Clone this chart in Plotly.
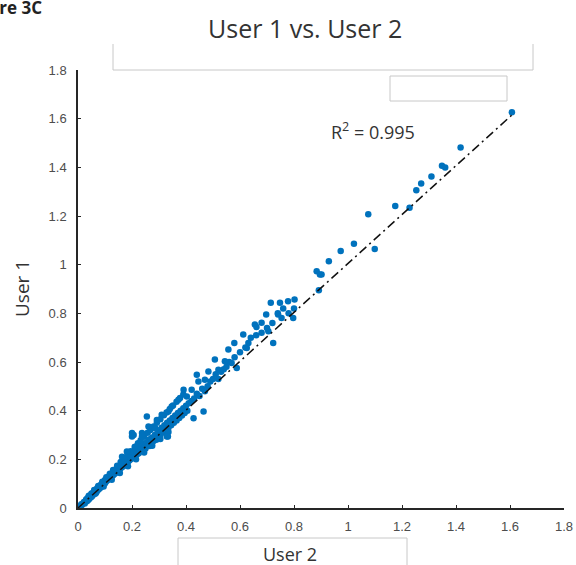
import plotly.graph_objects as go

# ---- data (User 2 on x, User 1 on y) ----
user2 = [
    0.005, 0.010, 0.012, 0.015, 0.020, 0.022, 0.025, 0.030, 0.030, 0.033, 0.035, 0.038, 0.040, 0.042,
    0.045, 0.048, 0.050, 0.050, 0.052, 0.055, 0.058, 0.060, 0.062, 0.065, 0.068, 0.070, 0.070, 0.072,
    0.075, 0.078, 0.080, 0.080, 0.083, 0.085, 0.088, 0.090, 0.092, 0.095, 0.098, 0.100, 0.100, 0.103,
    0.105, 0.108, 0.110, 0.112, 0.115, 0.118, 0.120, 0.120, 0.123, 0.125, 0.128, 0.130, 0.132, 0.135,
    0.138, 0.140, 0.142, 0.145, 0.148, 0.150, 0.152, 0.155, 0.158, 0.160, 0.162, 0.165, 0.168, 0.170,
    0.172, 0.175, 0.178, 0.180, 0.182, 0.185, 0.188, 0.190, 0.192, 0.195, 0.198, 0.200, 0.200, 0.205,
    0.208, 0.210, 0.215, 0.218, 0.220, 0.225, 0.228, 0.230, 0.235, 0.238, 0.240, 0.245, 0.250, 0.250,
    0.255, 0.260, 0.262, 0.265, 0.270, 0.272, 0.275, 0.280, 0.285, 0.290, 0.295, 0.300, 0.300, 0.305,
    0.310, 0.315, 0.320, 0.325, 0.330, 0.335, 0.340, 0.345, 0.350, 0.355, 0.360, 0.365, 0.370, 0.375,
    0.380, 0.385, 0.390, 0.395, 0.400, 0.405, 0.410, 0.420, 0.430, 0.440, 0.450, 0.460, 0.470, 0.480,
    0.490, 0.500, 0.510, 0.520, 0.530, 0.540, 0.550, 0.560, 0.580, 0.600, 0.620, 0.640, 0.660, 0.680,
    0.700, 0.720, 0.740, 0.760, 0.780, 0.800,
    # extra points that widen the dense band
    0.040, 0.060, 0.075, 0.090, 0.105, 0.118, 0.130, 0.145, 0.158, 0.170, 0.183, 0.195, 0.210, 0.222,
    0.232, 0.245, 0.258, 0.268, 0.280, 0.292, 0.305, 0.318, 0.328, 0.340, 0.352, 0.365, 0.378, 0.390,
    0.065, 0.095, 0.125, 0.155, 0.185, 0.215, 0.245, 0.275, 0.305, 0.335,
    # scattered points
    0.163, 0.181, 0.212, 0.200, 0.200, 0.237, 0.237, 0.261, 0.286, 0.333, 0.255, 0.292, 0.310, 0.335,
    0.347, 0.372, 0.403, 0.391, 0.421, 0.446, 0.440, 0.470, 0.483, 0.520, 0.507, 0.544, 0.569, 0.588,
    0.557, 0.579, 0.625, 0.631, 0.612, 0.723, 0.705, 0.655, 0.680, 0.661, 0.697, 0.741, 0.754, 0.797,
    0.714, 0.748, 0.778, 0.802, 0.206, 0.465, 0.428, 0.329,
    0.892, 0.884, 0.896, 0.902, 0.929, 0.973, 1.022, 1.099, 1.075, 1.175, 1.228, 1.253, 1.271, 1.309,
    1.348, 1.360, 1.417, 1.607,
]
user1 = [
    0.005, 0.008, 0.015, 0.012, 0.020, 0.025, 0.018, 0.030, 0.035, 0.028, 0.040, 0.033, 0.045, 0.038,
    0.050, 0.044, 0.055, 0.060, 0.048, 0.062, 0.055, 0.068, 0.060, 0.072, 0.065, 0.078, 0.070, 0.082,
    0.075, 0.086, 0.090, 0.080, 0.094, 0.085, 0.100, 0.092, 0.105, 0.098, 0.110, 0.102, 0.115, 0.108,
    0.120, 0.113, 0.125, 0.118, 0.130, 0.122, 0.135, 0.125, 0.140, 0.130, 0.145, 0.135, 0.150, 0.140,
    0.155, 0.145, 0.160, 0.150, 0.165, 0.155, 0.170, 0.160, 0.175, 0.165, 0.180, 0.170, 0.185, 0.175,
    0.190, 0.180, 0.195, 0.185, 0.200, 0.190, 0.205, 0.195, 0.210, 0.200, 0.215, 0.205, 0.220, 0.210,
    0.225, 0.215, 0.230, 0.220, 0.240, 0.225, 0.245, 0.235, 0.250, 0.240, 0.260, 0.250, 0.265, 0.245,
    0.270, 0.260, 0.280, 0.255, 0.285, 0.270, 0.290, 0.275, 0.300, 0.280, 0.310, 0.295, 0.320, 0.300,
    0.330, 0.310, 0.340, 0.320, 0.350, 0.330, 0.360, 0.340, 0.370, 0.350, 0.380, 0.360, 0.390, 0.370,
    0.400, 0.380, 0.410, 0.390, 0.420, 0.400, 0.430, 0.440, 0.450, 0.470, 0.460, 0.490, 0.480, 0.500,
    0.520, 0.530, 0.550, 0.530, 0.560, 0.570, 0.580, 0.600, 0.620, 0.640, 0.660, 0.700, 0.710, 0.720,
    0.740, 0.760, 0.800, 0.820, 0.800, 0.820,
    # extra points that widen the dense band
    0.050, 0.074, 0.090, 0.108, 0.126, 0.141, 0.156, 0.174, 0.189, 0.204, 0.219, 0.233, 0.251, 0.266,
    0.278, 0.293, 0.309, 0.321, 0.335, 0.350, 0.365, 0.381, 0.392, 0.407, 0.421, 0.437, 0.452, 0.466,
    0.060, 0.088, 0.116, 0.144, 0.172, 0.200, 0.228, 0.256, 0.284, 0.312,
    # scattered points
    0.211, 0.232, 0.252, 0.308, 0.294, 0.308, 0.294, 0.335, 0.328, 0.294, 0.376, 0.362, 0.383, 0.397,
    0.417, 0.445, 0.458, 0.486, 0.486, 0.520, 0.548, 0.527, 0.561, 0.568, 0.610, 0.603, 0.596, 0.575,
    0.651, 0.678, 0.658, 0.678, 0.713, 0.678, 0.726, 0.754, 0.761, 0.744, 0.795, 0.795, 0.781, 0.781,
    0.843, 0.843, 0.850, 0.857, 0.300, 0.397, 0.369, 0.294,
    0.895, 0.973, 0.960, 0.960, 1.014, 1.056, 1.086, 1.064, 1.207, 1.241, 1.234, 1.306, 1.334, 1.362,
    1.406, 1.399, 1.481, 1.626,
]
fit_x = [0.0, 1.607]
fit_y = [0.0, 1.615]

x_ticks = [0, 0.2, 0.4, 0.6, 0.8, 1.0, 1.2, 1.4, 1.6, 1.8]
tick_labels = ["0", "0.2", "0.4", "0.6", "0.8", "1", "1.2", "1.4", "1.6", "1.8"]

title_text = "User 1 vs. User 2"
x_title = "User 2"
y_title = "User 1"
r2_text = "R<sup>2</sup> = 0.995"
panel_text = "Figure 3C"

# ---- figure ----
W, H = 576, 565
L, R, T, B = 78, 12, 70, 57
pw, ph = W - L - R, H - T - B


def px(x):
    return (x - L) / pw


def py(y):
    return (H - B - y) / ph


fig = go.Figure()
fig.add_trace(go.Scatter(
    x=user2, y=user1, mode="markers",
    marker=dict(color="#0072BD", size=6.5, line=dict(width=0)),
    showlegend=False, hoverinfo="x+y",
))
fig.add_trace(go.Scatter(
    x=fit_x, y=fit_y, mode="lines",
    line=dict(color="#111111", width=1.5, dash="9px,4px,2px,4px"),
    showlegend=False, hoverinfo="skip",
))

axis_common = dict(
    range=[0, 1.8], tickvals=x_ticks, ticktext=tick_labels,
    showgrid=False, zeroline=False, showline=True, linecolor="#262626", linewidth=1.5,
    ticks="inside", ticklen=3, tickcolor="#262626", tickwidth=1.2,
    tickfont=dict(family="Liberation Sans, Arial", size=13, color="#4d4d4d"),
    mirror=False, fixedrange=True, automargin=False,
)
fig.update_xaxes(**axis_common, ticklabelstandoff=6)
fig.update_yaxes(**axis_common, ticklabelstandoff=7)

box_col = "#c8c8c8"
shapes = [
    dict(type="path", xref="paper", yref="paper",
         path=f"M {px(113)},{py(44)} L {px(113)},{py(70)} L {px(533)},{py(70)} L {px(533)},{py(44)}",
         line=dict(color=box_col, width=1)),
    dict(type="rect", xref="paper", yref="paper",
         x0=px(390), x1=px(507), y0=py(101), y1=py(76),
         line=dict(color=box_col, width=1)),
    dict(type="path", xref="paper", yref="paper",
         path=f"M {px(178)},{py(570)} L {px(178)},{py(538)} L {px(407)},{py(538)} L {px(407)},{py(570)}",
         line=dict(color=box_col, width=1)),
]

annotations = [
    dict(text=title_text, xref="paper", yref="paper", x=px(305), y=py(28),
         xanchor="center", yanchor="middle", showarrow=False,
         font=dict(family="Open Sans", size=25, color="#333333")),
    dict(text=f"<b>{panel_text}</b>", xref="paper", yref="paper", x=px(44), y=py(8),
         xanchor="right", yanchor="middle", showarrow=False,
         font=dict(family="Open Sans", size=17, color="#222222")),
    dict(text=x_title, xref="paper", yref="paper", x=px(290), y=py(554),
         xanchor="center", yanchor="middle", showarrow=False,
         font=dict(family="Open Sans", size=18, color="#333333")),
    dict(text=y_title, xref="paper", yref="paper", x=px(22), y=py(289),
         xanchor="center", yanchor="middle", showarrow=False, textangle=-90,
         font=dict(family="Open Sans", size=19, color="#333333")),
    dict(text=r2_text, xref="paper", yref="paper", x=px(329), y=py(131),
         xanchor="left", yanchor="middle", showarrow=False,
         font=dict(family="Open Sans", size=18, color="#333333")),
]

fig.update_layout(
    width=W, height=H,
    margin=dict(l=L, r=R, t=T, b=B, pad=0),
    paper_bgcolor="white", plot_bgcolor="white",
    shapes=shapes, annotations=annotations,
    showlegend=False,
)

fig.write_html("out.html", config={"displayModeBar": False})

# remove the default 8px page margin so the figure sits at the window's corner
with open("out.html", "r", encoding="utf-8") as f:
    html = f.read()
html = html.replace("<head>", "<head><style>html,body{margin:0;padding:0;overflow:hidden;}</style>", 1)
with open("out.html", "w", encoding="utf-8") as f:
    f.write(html)
